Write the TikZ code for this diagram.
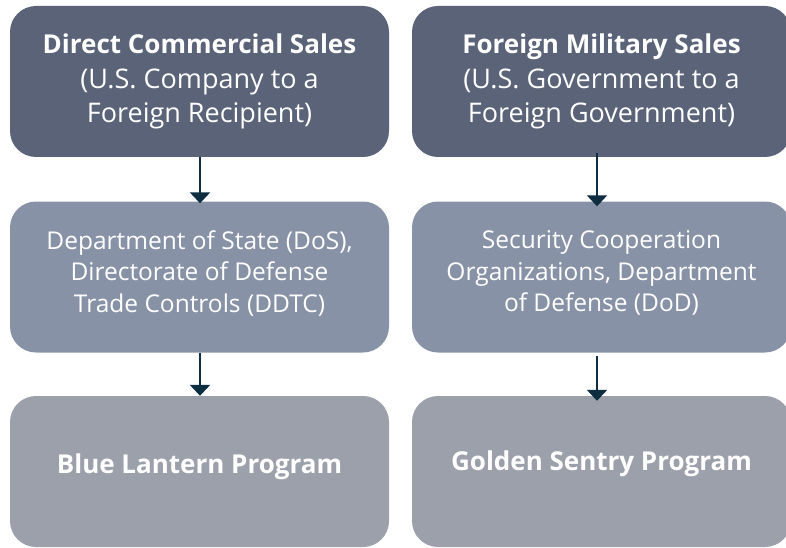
\documentclass[tikz,border=0pt]{standalone}
\usepackage{fontspec}
\setmainfont{Open Sans}
\usetikzlibrary{arrows.meta}
\definecolor{topc}{HTML}{5A6377}
\definecolor{midc}{HTML}{8892A6}
\definecolor{botc}{HTML}{9BA0AB}
\definecolor{arrc}{HTML}{0F2D40}
\newcommand{\hdr}[1]{{\fontsize{26}{34.5}\selectfont\bfseries #1}}
\tikzset{
  box/.style={rounded corners=26pt, minimum width=379pt, minimum height=151pt, inner sep=0pt, text=white, align=center},
  topbox/.style={box, fill=topc, font=\fontsize{27}{34.5}\selectfont},
  midbox/.style={box, fill=midc, font=\fontsize{24.5}{31.5}\selectfont},
  botbox/.style={box, fill=botc, font=\fontsize{26}{30}\selectfont\bfseries},
  arr/.style={draw=arrc, line width=2.6pt, -{Triangle[width=20pt,length=11pt]}}
}
\begin{document}
\begin{tikzpicture}[x=1pt,y=-1pt]
\clip (0,0) rectangle (786,548);
\useasboundingbox (0,0) rectangle (786,548);
\node[topbox] (dcs) at (199.5,81.5) {\hdr{Direct Commercial Sales}\\(U.S. Company to a\\Foreign Recipient)};
\node[topbox] (fms) at (601.5,81.5) {\hdr{Foreign Military Sales}\\(U.S. Government to a\\Foreign Government)};
\node[midbox] (dos) at (199.5,277) {Department of State (DoS),\\Directorate of Defense\\Trade Controls (DDTC)\\[-20pt]};
\node[midbox] (sco) at (601.5,277) {Security Cooperation\\Organizations, Department\\of Defense (DoD)\\[-20pt]};
\node[botbox] (bl) at (199.5,471.5) {Blue Lantern Program\\[-14pt]};
\node[botbox] (gs) at (601.5,471.5) {Golden Sentry Program\\[-8pt]};
\draw[arr] ([xshift=0.5pt]dcs.south) -- ([xshift=0.5pt,yshift=-2pt]dos.north);
\draw[arr] ([xshift=0.5pt]dos.south) -- ([xshift=0.5pt]bl.north);
\draw[arr] ([xshift=-4.5pt,yshift=4pt]fms.south) -- ([xshift=-4.5pt,yshift=-5pt]sco.north);
\draw[arr] ([xshift=-4.5pt,yshift=-3pt]sco.south) -- ([xshift=-4.5pt,yshift=-5pt]gs.north);
\end{tikzpicture}
\end{document}
